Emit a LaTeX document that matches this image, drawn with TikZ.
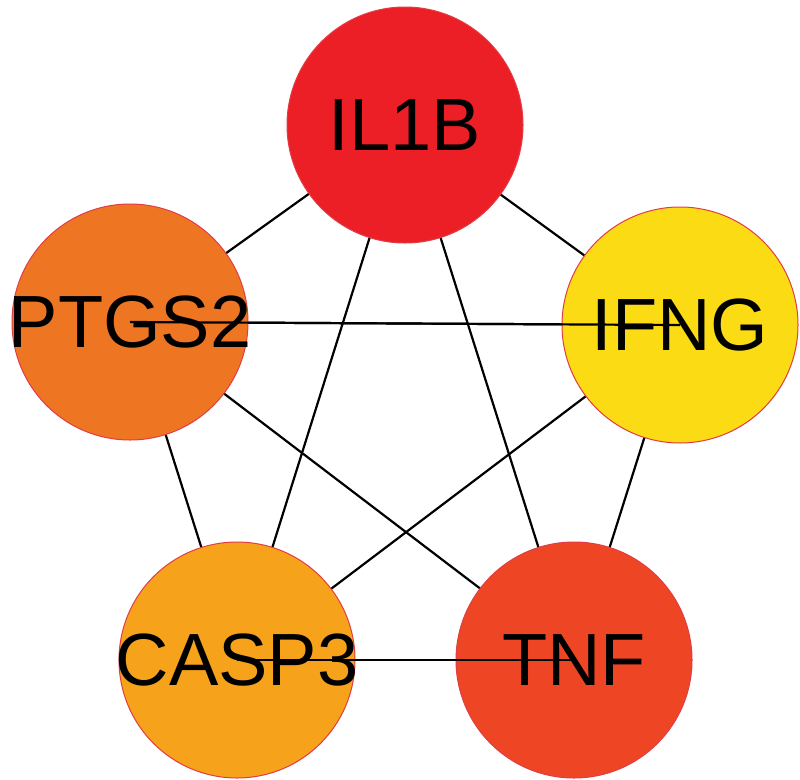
\documentclass[tikz,border=0pt]{standalone}
\usepackage{fontspec}
\setmainfont{Liberation Sans}
\begin{document}
\begin{tikzpicture}[x=1pt,y=-1pt,
  gene/.style={circle,minimum size=236pt,inner sep=0pt,draw={rgb,255:red,225;green,60;blue,70},line width=1pt,font=\fontsize{74}{74}\selectfont},
  edge/.style={line width=2.2pt,black}]
\useasboundingbox (0,0) rectangle (800,779);
\definecolor{cil}{RGB}{236,31,38}
\definecolor{cpt}{RGB}{238,118,35}
\definecolor{cif}{RGB}{250,219,20}
\definecolor{cca}{RGB}{247,162,27}
\definecolor{ctn}{RGB}{238,70,37}
\coordinate (a) at (405,125);
\coordinate (b) at (130,322);
\coordinate (c) at (680,325);
\coordinate (d) at (237,660);
\coordinate (e) at (574,660);
\foreach \u/\v in {a/b,a/c,a/d,a/e,b/c,b/d,b/e,c/d,c/e,d/e}
  \draw[edge] (\u) -- (\v);
\node[gene,fill=cil] (il1b) at (a) {IL1B};
\node[gene,fill=cpt] (ptgs2) at (b) {};
\node[gene,fill=cif] (ifng) at (c) {};
\node[gene,fill=cca] (casp3) at (d) {};
\node[gene,fill=ctn] (tnf) at (e) {};
\draw[edge] (b) -- (c);
\draw[edge] (d) -- (e);
\node[font=\fontsize{74}{74}\selectfont] at (b) {PTGS2};
\node[font=\fontsize{74}{74}\selectfont] at (c) {IFNG};
\node[font=\fontsize{74}{74}\selectfont] at (d) {CASP3};
\node[font=\fontsize{74}{74}\selectfont] at (e) {TNF};
\end{tikzpicture}
\end{document}
